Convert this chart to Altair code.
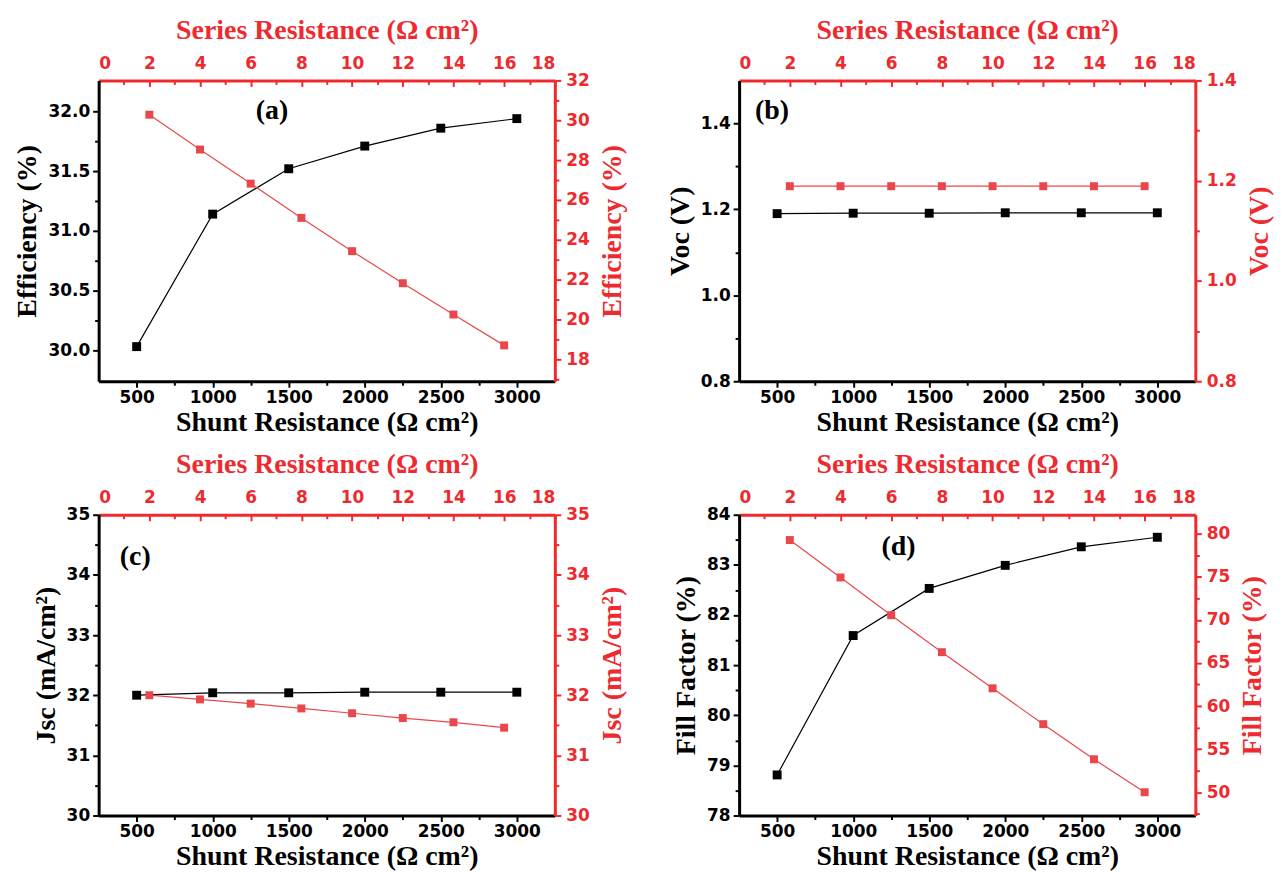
import altair as alt
import pandas as pd

# ---------------- data ----------------
shunt = [500, 1000, 1500, 2000, 2500, 3000]
series = [2, 4, 6, 8, 10, 12, 14, 16]

eff_shunt = [30.03, 31.14, 31.52, 31.71, 31.86, 31.94]
eff_series = [30.28, 28.53, 26.82, 25.10, 23.43, 21.82, 20.25, 18.70]

voc_shunt = [1.190, 1.191, 1.191, 1.192, 1.192, 1.192]
voc_series = [1.189, 1.189, 1.189, 1.189, 1.189, 1.189, 1.189, 1.189]

jsc_shunt = [32.00, 32.04, 32.04, 32.05, 32.05, 32.05]
jsc_series = [32.00, 31.93, 31.86, 31.78, 31.70, 31.62, 31.55, 31.46]

ff_shunt = [78.81, 81.59, 82.53, 82.99, 83.36, 83.55]
ff_series = [79.26, 74.92, 70.54, 66.25, 62.06, 57.90, 53.83, 50.00]

panel_letters = ["(a)", "(b)", "(c)", "(d)"]
letter_x = [1390, 466, 491, 1298]
letter_y = [32.0, 1.428, 34.29, 83.35]

shunt_ticks = [500, 1000, 1500, 2000, 2500, 3000]
shunt_minor = [750, 1250, 1750, 2250, 2750]
series_ticks = [0, 2, 4, 6, 8, 10, 12, 14, 16, 18]
series_minor = [1, 3, 5, 7, 9, 11, 13, 15, 17]

# ---------------- style ----------------
BLACK = "#000000"
RED_AX = "#EE2A2F"
RED_MK = "#E8474B"
TICK_FONT = "DejaVu Sans"
TITLE_FONT = "Liberation Serif"
LAB_FS = 17
TIT_FS = 28
W, H = 458, 302


def ax_major(orient, values, fmt, title, color, tick_size=6, label_pad=3,
             title_pad=5, **kw):
    return alt.Axis(
        orient=orient, values=values, format=fmt, title=title, grid=False,
        domain=True, domainColor=color, domainWidth=3,
        ticks=tick_size > 0, tickColor=color, tickWidth=2, tickSize=tick_size,
        labelColor=color, labelFont=TICK_FONT, labelFontSize=LAB_FS,
        labelFontWeight="bold", labelPadding=label_pad,
        titleColor=color, titleFont=TITLE_FONT, titleFontSize=TIT_FS,
        titleFontWeight="bold", titlePadding=title_pad, **kw)


def ax_ticks(orient, values, color, size, offset=0):
    return alt.Axis(
        orient=orient, values=values, grid=False, domain=False, labels=False,
        title=None, ticks=True, tickColor=color, tickWidth=2, tickSize=size,
        offset=offset)


def panel(i, ys, yr, ldom, lmaj, lmin, lfmt, rdom, rmaj, rmin, rfmt, ytitle):
    dfb = pd.DataFrame({"x": shunt, "y": ys})
    dfr = pd.DataFrame({"x": series, "y": yr})
    dfl = pd.DataFrame({"x": [letter_x[i]], "y": [letter_y[i]],
                        "t": [panel_letters[i]]})
    xb = alt.Scale(domain=[250, 3250], nice=False, zero=False)
    yb = alt.Scale(domain=ldom, nice=False, zero=False)
    xr = alt.Scale(domain=[0, 18], nice=False, zero=False)
    yrs = alt.Scale(domain=rdom, nice=False, zero=False)

    b_line = alt.Chart(dfb).mark_line(color=BLACK, strokeWidth=1.2).encode(
        x=alt.X("x:Q", scale=xb, axis=ax_major(
            "bottom", shunt_ticks, "d", "Shunt Resistance (Ω cm²)", BLACK,
            tick_size=6, label_pad=2, title_pad=3)),
        y=alt.Y("y:Q", scale=yb, axis=ax_major(
            "left", lmaj, lfmt, ytitle, BLACK, tick_size=6, label_pad=3,
            title_pad=6)),
    )
    b_pts = alt.Chart(dfb).mark_square(size=80, color=BLACK, opacity=1).encode(
        x=alt.X("x:Q", scale=xb, axis=ax_ticks("bottom", shunt_minor, BLACK, 4)),
        y=alt.Y("y:Q", scale=yb, axis=ax_ticks("left", lmin, BLACK, 4)),
    )
    b_lab = alt.Chart(dfl).mark_text(
        font=TITLE_FONT, fontSize=28, fontWeight="bold", color=BLACK
    ).encode(
        x=alt.X("x:Q", scale=xb, axis=None),
        y=alt.Y("y:Q", scale=yb, axis=None),
        text="t:N",
    )
    black = alt.layer(b_line, b_pts, b_lab).resolve_axis(
        x="independent", y="independent")

    r_line = alt.Chart(dfr).mark_line(color=RED_MK, strokeWidth=1.2).encode(
        x=alt.X("x:Q", scale=xr, axis=ax_major(
            "top", series_ticks, "d", "Series Resistance (Ω cm²)", RED_AX,
            tick_size=0, label_pad=8, title_pad=10)),
        y=alt.Y("y:Q", scale=yrs, axis=ax_major(
            "right", rmaj, rfmt, ytitle, RED_AX, tick_size=6, label_pad=5,
            title_pad=9, titleAngle=270, titleBaseline="top")),
    )
    r_pts = alt.Chart(dfr).mark_square(size=64, color=RED_MK, opacity=1).encode(
        x=alt.X("x:Q", scale=xr, axis=ax_ticks("top", series_ticks, RED_AX, 6, -6)),
        y=alt.Y("y:Q", scale=yrs, axis=ax_ticks("right", rmin, RED_AX, 4)),
    )
    r_minor = alt.Chart(dfr).mark_point(opacity=0).encode(
        x=alt.X("x:Q", scale=xr, axis=ax_ticks("top", series_minor, RED_AX, 4, -4)),
        y=alt.Y("y:Q", scale=yrs, axis=None),
    )
    red = alt.layer(r_line, r_pts, r_minor).resolve_axis(
        x="independent", y="independent")

    return alt.layer(black, red).resolve_scale(
        x="independent", y="independent").properties(width=W, height=H)


pa = panel(0, eff_shunt, eff_series, [29.74, 32.26],
           [30.0, 30.5, 31.0, 31.5, 32.0], [30.25, 30.75, 31.25, 31.75], ".1f",
           [16.9, 32.0], [18, 20, 22, 24, 26, 28, 30, 32],
           [17, 19, 21, 23, 25, 27, 29, 31], "d", "Efficiency (%)")
pb = panel(1, voc_shunt, voc_series, [0.8, 1.5],
           [0.8, 1.0, 1.2, 1.4], [0.9, 1.1, 1.3], ".1f",
           [0.8, 1.4], [0.8, 1.0, 1.2, 1.4], [0.9, 1.1, 1.3], ".1f",
           "Voc (V)")
pc = panel(2, jsc_shunt, jsc_series, [30, 35],
           [30, 31, 32, 33, 34, 35], [30.5, 31.5, 32.5, 33.5, 34.5], "d",
           [30, 35], [30, 31, 32, 33, 34, 35], [30.5, 31.5, 32.5, 33.5, 34.5],
           "d", "Jsc (mA/cm²)")
pd_ = panel(3, ff_shunt, ff_series, [78, 84],
            [78, 79, 80, 81, 82, 83, 84], [78.5, 79.5, 80.5, 81.5, 82.5, 83.5],
            "d", [47.3, 82.2], [50, 55, 60, 65, 70, 75, 80],
            [47.5, 52.5, 57.5, 62.5, 67.5, 72.5, 77.5], "d", "Fill Factor (%)")

chart = alt.concat(
    pa, pb, pc, pd_, columns=2,
    spacing={"row": 134, "column": 185}, bounds="flush"
).configure_view(stroke=None).configure(padding={"left": 5, "top": 6, "right": 5, "bottom": 5})

chart.save("out.html", embed_options={"renderer": "svg", "actions": False})
